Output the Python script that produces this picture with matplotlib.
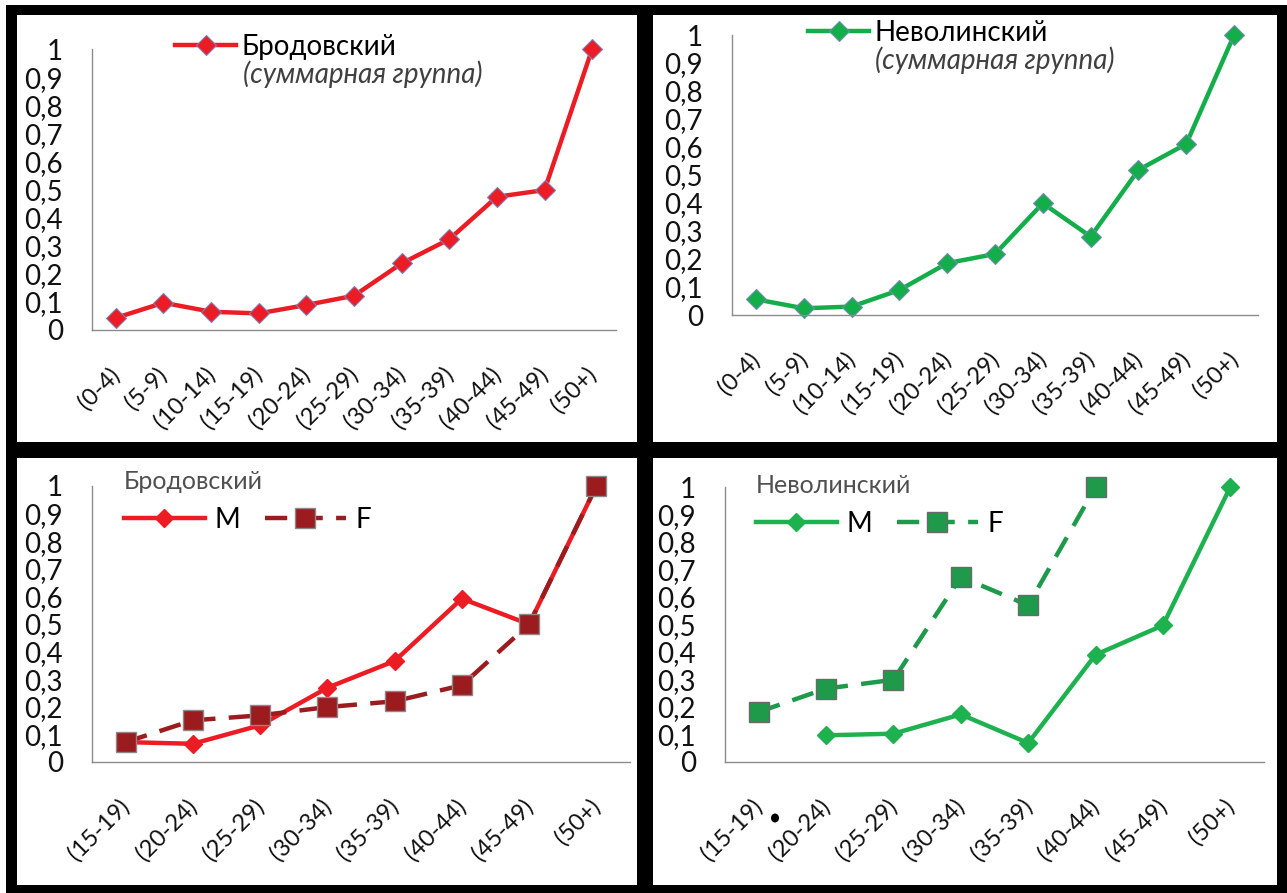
import numpy as np
import matplotlib
matplotlib.use("Agg")
from matplotlib import pyplot as plt
from matplotlib.patches import Rectangle, Ellipse
from matplotlib.transforms import ScaledTranslation

plt.rcParams['font.family'] = ['Lato', 'DejaVu Sans']

# data
groups_all = ["(0-4)", "(5-9)", "(10-14)", "(15-19)", "(20-24)", "(25-29)",
              "(30-34)", "(35-39)", "(40-44)", "(45-49)", "(50+)"]
brod_all = [0.043, 0.097, 0.065, 0.059, 0.089, 0.122, 0.237, 0.323, 0.474, 0.498, 1.0]
nevo_all = [0.056, 0.024, 0.030, 0.089, 0.185, 0.218, 0.399, 0.280, 0.518, 0.611, 1.0]

groups_sex = ["(15-19)", "(20-24)", "(25-29)", "(30-34)", "(35-39)",
              "(40-44)", "(45-49)", "(50+)"]
brod_m = [0.072, 0.066, 0.133, 0.269, 0.366, 0.592, 0.499, 1.0]
brod_f = [0.072, 0.151, 0.169, 0.199, 0.220, 0.278, 0.499, 1.0]
nevo_m = [np.nan, 0.097, 0.103, 0.173, 0.069, 0.390, 0.497, 1.0]
nevo_f = [0.182, 0.267, 0.299, 0.673, 0.570, 1.0, np.nan, np.nan]

W, H = 1287, 893
fig = plt.figure(figsize=(W / 100, H / 100), dpi=100)
fig.patch.set_facecolor("black")


def px(x0, y0, x1, y1):
    # pixel box (top-left origin) -> figure fraction rect
    return [x0 / W, 1 - y1 / H, (x1 - x0) / W, (y1 - y0) / H]


# thin white margin at left / top and white panels
fig.patches.append(Rectangle((0, 0), 6 / W, 1, transform=fig.transFigure,
                             facecolor="white", edgecolor="none", zorder=-5))
fig.patches.append(Rectangle((0, 1 - 5 / H), 1, 5 / H, transform=fig.transFigure,
                             facecolor="white", edgecolor="none", zorder=-5))
for (x0, y0, x1, y1) in [(17, 15, 637, 442), (653, 15, 1277, 442),
                         (17, 458, 637, 885), (653, 458, 1277, 885)]:
    r = px(x0, y0, x1, y1)
    fig.patches.append(Rectangle((r[0], r[1]), r[2], r[3], transform=fig.transFigure,
                                 facecolor="white", edgecolor="none", zorder=-4))

yt = np.round(np.arange(0, 1.01, 0.1), 1)
ytl = ["0"] + [("%.1f" % v).replace(".", ",") for v in yt[1:-1]] + ["1"]


def style(ax, cats):
    n = len(cats)
    ax.set_xlim(-0.5, n - 0.5)
    ax.set_ylim(0, 1)
    ax.set_facecolor("none")
    for s in ["top", "right"]:
        ax.spines[s].set_visible(False)
    for s in ["left", "bottom"]:
        ax.spines[s].set_color("#8c8c8c")
        ax.spines[s].set_linewidth(1.0)
    ax.set_yticks(yt)
    ax.set_yticklabels(ytl, fontsize=20, color="#111111")
    ax.tick_params(axis="y", length=0, pad=21)
    ax.set_xticks(range(n))
    ax.set_xticklabels(cats, rotation=45, ha="right", fontsize=17, color="#111111")
    ax.tick_params(axis="x", length=0, pad=24)
    for lab in ax.get_xticklabels():
        lab.set_transform(lab.get_transform() + ScaledTranslation(0.08, 0, fig.dpi_scale_trans))


red = "#EC1C24"
dred = "#9B1B1F"
green = "#13AD4A"
green_m = "#1DB24F"
green_f = "#1E9A4A"

# top-left
ax1 = fig.add_axes(px(92, 49, 616, 330))
style(ax1, groups_all)
ax1.plot(range(len(groups_all)), brod_all, color=red, lw=3.2, marker="D", ms=10,
         mfc=red, mec="#7f7fb8", mew=0.8, clip_on=False, label="Бродовский")
ax1.legend(loc="center left", bbox_to_anchor=(175 / W, 1 - 47 / H),
           bbox_transform=fig.transFigure, frameon=False, borderpad=0,
           borderaxespad=0, handlelength=2.2, handletextpad=0.2, fontsize=20)
fig.text(243 / W, 1 - 74 / H, "(суммарная группа)", style="italic",
         fontsize=20, color="#404040", va="center")

# top-right
ax2 = fig.add_axes(px(732, 35, 1258, 315))
style(ax2, groups_all)
ax2.plot(range(len(groups_all)), nevo_all, color=green, lw=3.2, marker="D", ms=10,
         mfc=green, mec="#6f8fb0", mew=0.8, clip_on=False, label="Неволинский")
ax2.legend(loc="center left", bbox_to_anchor=(808 / W, 1 - 33 / H),
           bbox_transform=fig.transFigure, frameon=False, borderpad=0,
           borderaxespad=0, handlelength=2.2, handletextpad=0.2, fontsize=20)
fig.text(875 / W, 1 - 60 / H, "(суммарная группа)", style="italic",
         fontsize=20, color="#404040", va="center")

# bottom-left
ax3 = fig.add_axes(px(92, 486, 630, 762))
style(ax3, groups_sex)
x3 = range(len(groups_sex))
ax3.plot(x3, brod_m, color=red, lw=3.2, marker="D", ms=9, mfc=red, mec=red,
         clip_on=False, label="M", zorder=3)
ax3.plot(x3, brod_f, color=dred, lw=3.2, ls=(0, (5, 3)), marker="s", ms=15,
         mfc=dred, mec="#8a8a8a", mew=1.0, clip_on=False, label="F", zorder=4)
leg3 = ax3.legend(loc="upper left", bbox_to_anchor=(124 / W, 1 - 470 / H),
                  bbox_transform=fig.transFigure, frameon=False, ncol=2,
                  borderpad=0, borderaxespad=0, handlelength=2.9,
                  handletextpad=0.35, columnspacing=0.9, fontsize=20,
                  title="Бродовский", title_fontsize=18, alignment="left")
leg3.get_title().set_color("#505050")

# bottom-right
ax4 = fig.add_axes(px(725, 487, 1264, 762))
style(ax4, groups_sex)
x4 = range(len(groups_sex))
ax4.plot(x4, nevo_m, color=green_m, lw=3.2, marker="D", ms=9, mfc=green_m,
         mec=green_m, clip_on=False, label="M", zorder=3)
ax4.plot(x4, nevo_f, color=green_f, lw=3.2, ls=(0, (5, 3)), marker="s", ms=15,
         mfc=green_f, mec="#6a6a6a", mew=1.0, clip_on=False, label="F", zorder=4)
leg4 = ax4.legend(loc="upper left", bbox_to_anchor=(756 / W, 1 - 474 / H),
                  bbox_transform=fig.transFigure, frameon=False, ncol=2,
                  borderpad=0, borderaxespad=0, handlelength=2.9,
                  handletextpad=0.35, columnspacing=0.9, fontsize=20,
                  title="Неволинский", title_fontsize=18, alignment="left")
leg4.get_title().set_color("#505050")

# small stray dot in the last panel
fig.patches.append(Ellipse((775 / W, 1 - 818 / H), 8 / W, 9 / H,
                           transform=fig.transFigure, facecolor="black",
                           edgecolor="none", zorder=5))

fig.savefig("out.png", dpi=100, facecolor=fig.get_facecolor())
